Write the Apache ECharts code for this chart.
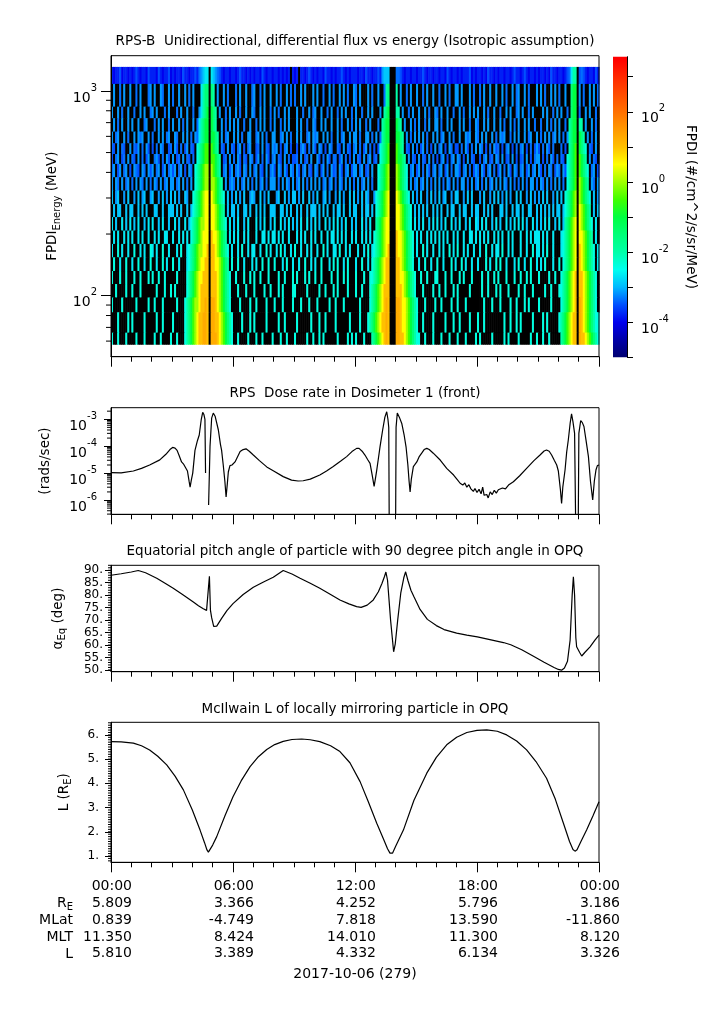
<!DOCTYPE html>
<html>
<head>
<meta charset="UTF-8">
<title>RPS-B flux, dose, pitch angle and L</title>
<script src="https://cdn.jsdelivr.net/npm/echarts@6.0.0/dist/echarts.min.js"></script>
<style>
	html,body{margin:0; padding:0; background:#fff;}
	#chart{width:725px; height:1019px;}
</style>
</head>
<body>
<div id="chart"></div>
<script>
// ---------------- data ----------------
// bottom table (one column per major time tick)
var TICK_TIMES = ['00:00', '06:00', '12:00', '18:00', '00:00'];
var EPH_RE   = ['5.809', '3.366', '4.252', '5.796', '3.186'];
var EPH_MLAT = ['0.839', '-4.749', '7.818', '13.590', '-11.860'];
var EPH_MLT  = ['11.350', '8.424', '14.010', '11.300', '8.120'];
var EPH_L    = ['5.810', '3.389', '4.332', '6.134', '3.326'];
var DATE_LABEL = '2017-10-06 (279)';

// spectrogram: energy bin edges (MeV), top row first
var ENERGY_EDGES = [1310, 1082, 838, 736, 633, 555, 492, 440, 379, 326, 280, 242, 208, 179, 154, 132, 114, 98, 83, 66, 58];
var COL_HOURS = 0.1; // one character = 6 minutes
// flux level codes (log10 #/cm^2/s/sr/MeV); '.' = no data (black)
var LEVEL = {A:-4.0, B:-3.8, C:-3.5, D:-3.35, E:-3.15, F:-2.9, G:-2.65, H:-2.4, I:-2.0, J:-1.5, K:-1.0, L:-0.5, M:0.0, N:0.5, O:1.0, P:1.25};
// one row per energy bin, 24 groups of 10 columns (one group per hour)
var SPEC_ROWS = [
	"BABBCABBAB ABCBABBACB BBACBABBCA BABBACBBAB BCBDEFGG.G FEDCBABBAB BABCBBABAB ABBACBABBA BBABABAB.B AB.BBABCBA BABBACBBAB ABBCBABABB BABBACBBAB BCBEFFF... DDCBABBABB ABBCBABBAB BABBACBABB ABABBBCABA BBABACBBAB ABBABBABCB BABCBABBAB ABBABACBBA BBABCDGII. CDCBABBACB",
	".E..D.E..E ..D.E...DE .E..ED..E. D..E..E.D. E...GIJJ.J I.E..E.D.. .D.E..E..D E..D.E..E. .E.D..E.D. D..E.E...E .E..D..E.D ..E.E.D..E D.E...E.D. .E..DIJ... I.E..D.E.. E..D.E..E. .D..E.D..E E.E...E.D. .D.E..E..E ..E.D..E.D E..E.D...E .E.D..E.E. D..E..JKK. E.D..E.E.D",
	"E..E.D..E. .D..E.E..D E.E...D.E. ..D.E..E.. D..EGIJK.K JI.E..D.E. .E.D..E..E D..E.E..D. E.D..E.E.. .E..D..E.D E..E..D.E. .D.E.E..D. E..D..E.E. ..E.IJK... II.E..D.E. .E..E.D..E D.E..E..D. .E.D..E.E. E..E.D..E. .D..E.E..D E.E..D.E.. ..E.E..D.E .E..D.JKK. D..E.E..D.",
	".E.D.E..E. E..E..DE.. .D.E.E..D. E..E.D.E.. E.DGIJKK.K JI..E.D.E. E.E..D..E. .D.E.E..D. E..D.E.E.. .E.E..D..E D..E.E..E. .E.D..E.D. E.E..D.E.. .D.IJKK... KJI.E..E.D .E..D.E..E E.D..E.E.. .E.E..D..E D..E.E..E. .E.D..E.D. E..E.E..D. .D..E.D.E. E..D.IJKK. II.E..E.D.",
	"E.DE..E.D. .E.EDE..E. D..E.E.DE. .ED..E.E.D .EDGIJKK.K KJI.E.DE.. E.E.D..EE. .DE.E.D..E E..DE.E.D. .E.E..DE.E DE..E.E.D. .E.DE..E.E E.D..EE.D. E.DIJKK... KKJI.E.D.E .E.E.D..E. E.DE..E.D. .E..EDE..E D.E.E..E.D .EDE..D.E. E..E.DE..E .D.E.E.DE. E.D.EIJKK. KJI.E.D.E.",
	"DC.E.DC..E .DCE.D.EC. C.D.ED..CD .EC.D.CE.D C.HIJKLL.L KJI.DC.E.D C.DE.C.DE. .CD.E.DC.E DE.C.DE.C. .C.DEC.D.E C.ED.C.ED. .DC.E.DC.D E.D.CE.D.C .CHIJKL... LKJI.DC.E. D.CE.D.C.E .DE.C.ED.C C.D.EC.D.E .ED.C.D.EC D.C.DE.C.D .DE.C.D.CE C.D.EC.D.. .D.C.IJKL. KJIH.DC.E.",
	"C.DE.CD.E. DC.E.D.CE. .DEC.D.EC. E.CD.E.DC. D.HIJKLL.L LKJI.CD.E. D.EC.DC.ED .CE.D.EC.D E.DC.E.D.C CD.E.CD.E. .EC.D.EC.D D.CE.D.C.E .DC.E.DE.C D.HIJKL... LKKJI.E.DC .E.DC.E.D. C.DE.C.DE. ED.C.E.DC. .C.DE.CD.E D.E.CD.E.C .CD.E.C.DE E.C.D.EC.D .DC.HIJKL. LKJI.E.DC.",
	"DE.CE.DE.C .EDC.ED.EC E.DE.CE.DE CE.DE.C.ED .HIJKLMM.M LKJI.DE.CE .DEC.ED.E. DE.DC.E.DE C.ED.EC.ED .EC.DE.DC. ED.CE.D.EC D.EC.DE.CE E.DE.CD.E. .HIJKLM... MLKJIH.DE. CE.D.EC.DE .DE.CE.D.E EC.DE.D.CE D.EC.DE.D. CE.D.EC.ED .DE.CE.DE. EC.D.ED.CE D.ECHIJKL. LKJIH.DE.C",
	"E.ED.E.DE. D.E.ED.E.D .ED.E.DE.E E.DE.E.D.E .HIJKLMM.M MLKJI.E.DE D.E.DE.E.D .E.DE.D.EE E.D.E.ED.E .DE.E.D.E. E.E.DE.DE. D.ED.E.E.D .E.DE.E.D. .HIJKLM... MLKJIH.E.D E.DE.E.D.E .E.D.ED.E. D.EE.D.E.D E.D.E.DE.E .E.ED.E.D. D.E.D.EE.D .ED.E.D.E. E.D.HIJKL. MLKJI.ED.E",
	"F.EF..E.F. .E.F.EF..E F..E.F.E.F .F.E..FE.. HIJKLMNN.N MLKJIH.F.E .F.E.F..EF E..F.E.F.. .EF..F.E.F F.E.F..F.E .F..EF.E.. E.F.E..F.F .E.F.FE..E HIJKLMN... NMLKJIH.F. E.F..E.F.E .F.EF..E.F F..E.F.F.. .E.F..E.F. F.E.F.E..F .F..E.F.E. E.F.F..E.F .F.HIJKLM. MLKJIH.F.E",
	".F.FF..F.F F..F.F.F.. .FF..F..FF F.F.F..F.F HIJKLMNN.N NMLKJI.F.F F.F..FF.F. .F.F.F..FF F..FF.F.F. .F.F..F.FF F.F.F.F..F .FF.F..F.F F..F.FF.F. HIJKLMN... NNMLKJIH.F .F.F.F..F. F.F..F.FF. .F.FF..F.F F..F.F.F.. .FF.F..F.F F.F..FF..F .F.F.F.F.F F.FHIJKLM. NMLKJI.F.F",
	"G.F..G.F.G .F.G..F.G. G..F.G..F. .G.F..G.FH IJKLMMNN.N NMLKJIH.G. F.G..F.G.. .G.F.G..F. G..G.F.G.F .F.G..G.F. G.F..G.F.G .G.F.G..F. F..G.F.G.. IJKLMNN... NNMLKJIH.G .F.G..F.G. G.F.G..G.F .G..F.G..G F.G.G..F.G .F..G.F.G. G.G.F..G.F .F.G.G..F. G.FIJKLMN. NMLKJIH.G.",
	".G.G..G.G. G..G.G..G. .G.G..GG.. G..G.G.G.H IJKLMNNN.O NNMLKJI.G. G.G..G.G.. .G..GG.G.G G.G.G..G.. .G.G.G..G. G..G..G.GG .G.G.G..G. G..G.G.G.H IJKLMNN... ONNMLKJIH. G.G..G.G.G .G.G.G..G. G..G..GG.G .G.G.G..G. G.G..G.G.. .G..G.G.GG G.G.G..G.. .GHIJKLMN. NNMLKJI.G.",
	"G..H.G..G. .H..G.G..H G.G..H..G. ..G.H..GHI JKLMMNNO.O ONMLKJIH.G ..G.H..G.G G..G..H.G. .G.H.G..G. H..G..G.G. .G..H.G..G G.H..G.G.. .G..G.H.GH IJKLMNO... ONNMLKJIH. G..H.G..G. .G.G..H.G. H..G.G..G. .G..H..G.G G.H..G.G.. .G..G..H.G G.G.H..G.. .GHIJKLMN. ONMLKJIH.G",
	".H..G..H.. G..H..G..H ..G..H.G.. H..G...GHI JKLMNNOO.O ONNMLKJI.H ..H..G...G .G..H..H.. H...G.H..G ..G..H..G. G..H...G.H .H..G.H... G..H..G.HI JKLMNOO... OONMLKJIH. .G..H..G.. H..G...H.G ..H.G..G.. G...H.G..H .H..G...G. H..G..H..G .G.H...G.. H.HIJKLMN. ONMLKJIH.G",
	"H...H..H.. .H..H...H. H..H..H... ..H....HIJ KLMNNOOO.O OONMLKJIH. .H...H..H. H..H...H.. ..H..H...H .H...H.H.. H..H....H. .H..H.H... H...H..HHI JKLMNOO... OONNMLKJIH ..H..H...H H...H..H.. .H.H...H.. ..H..H..H. H...H...H. .H..H.H... H....H..H. .HIJKLMNO. OONMLKJIH.",
	"..H....H.. H...H..... ..H...H..H .H.....HIJ KLMNOOOO.O OONMLKJIH. ..H...H... H....H..H. ..H.H....H H.....H... ..H..H...H .H....H... H..H...HIJ KLMNOOO... OOONMLKJIH ...H....H. .H..H...H. H.....H... ..H..H...H .H...H.... H..H...H.. ...H..H... HHIJKLMNO. OONMLKJIH.",
	"H....H.... ..H.....H. .H...H.... ..H...HIJK LMMNOOPO.P PONMLKJIH. ...H....H. .H....H... H...H....H ...H...H.. .H.....H.. H...H..... ..H....HIJ KLMNOPO... PPONNMLKJI H...H....H ..H....H.. H...H..... ...H...H.. .H....H..H ...H.H.... H.....H... .HIJKLMNO. PONMLKJIH.",
	"...H....H. H.....H... ..H..H.... H.....HIJK LMNOOPPO.P POONMLKJIH ....H...H. H.....H... ..H..H.... .H......H. ..H..H.... H......H.. ..H...HIJK LMNOOPO... PPONNMLKJI H..H....H. ....H...H. .H....H... H..H...... ...H..H..H .H.....H.. ..H.H..... HIJKLMNOO. PONMLKJIHH",
	"H..H...H.. ..H...H... .H..H....H ..H...HIJK LMNOOPPO.P PPONMLKJIH ..H....H.. .H..H....H ...H..H... H.....H..H ..H.H..... .H....H.H. H...H...IJ KLMNOPO... PPOONMLKJI HH..H...H. ..H...H... H...H....H .H.....H.. ...H.H.... H.....H..H ..H..H.... .IJKLMNOO. POONMLKJIH"
];

// dose rate, dosimeter 1 (front): [hour, rads/sec]; null = gap
var DOSE_PTS = [[0.00,1.05e-5],[0.50,1.02e-5],[1.10,1.2e-5],[1.50,1.5e-5],[1.90,2.0e-5],[2.40,3.1e-5],[2.70,5.0e-5],[2.90,7.5e-5],[3.03,9.0e-5],[3.15,8.5e-5],[3.25,7.0e-5],[3.35,4.5e-5],[3.47,2.6e-5],[3.58,2.1e-5],[3.67,1.9e-5],[3.76,1.2e-5],[3.84,5.0e-6],[3.89,3.0e-6],[3.95,5.5e-6],[4.02,1.0e-5],[4.13,7.0e-5],[4.25,1.6e-4],[4.34,2.6e-4],[4.44,1.0e-3],[4.51,1.8e-3],[4.57,1.5e-3],[4.62,1.0e-3],[4.65,1.0e-5],[4.72,null],[4.80,6.5e-7],[4.87,1.0e-4],[4.95,1.1e-3],[5.03,1.7e-3],[5.12,1.3e-3],[5.28,4.0e-4],[5.38,1.2e-4],[5.44,7.0e-5],[5.52,2.0e-5],[5.60,5.0e-6],[5.66,1.3e-6],[5.72,4.0e-6],[5.77,1.1e-5],[5.85,1.9e-5],[5.95,2.0e-5],[6.10,2.6e-5],[6.35,6.3e-5],[6.50,7.5e-5],[6.64,8.0e-5],[6.80,6.5e-5],[7.00,4.7e-5],[7.30,2.9e-5],[7.66,1.7e-5],[8.00,1.2e-5],[8.47,7.4e-6],[8.88,5.5e-6],[9.20,5.1e-6],[9.45,5.2e-6],[9.80,6.0e-6],[10.27,8.5e-6],[10.60,1.2e-5],[10.93,1.75e-5],[11.30,2.8e-5],[11.59,4.1e-5],[11.85,6.3e-5],[12.08,8.3e-5],[12.20,8.3e-5],[12.35,6.5e-5],[12.49,4.7e-5],[12.62,3.2e-5],[12.74,2.3e-5],[12.85,8.0e-6],[12.94,3.2e-6],[13.00,6.0e-6],[13.07,1.3e-5],[13.15,3.5e-5],[13.23,9.5e-5],[13.36,4.0e-4],[13.47,1.2e-3],[13.56,1.9e-3],[13.62,1.0e-3],[13.66,5.0e-4],[13.69,1e-8],[13.99,1e-8],[14.02,5.0e-4],[14.08,1.7e-3],[14.18,1.2e-3],[14.30,7.0e-4],[14.42,2.5e-4],[14.51,9.5e-5],[14.60,2.0e-5],[14.66,5.0e-6],[14.71,2.0e-6],[14.77,6.0e-6],[14.87,1.75e-5],[14.95,2.1e-5],[15.04,2.6e-5],[15.15,4.0e-5],[15.28,5.5e-5],[15.40,7.5e-5],[15.53,8.3e-5],[15.65,7.5e-5],[15.85,5.5e-5],[16.20,3.0e-5],[16.51,1.5e-5],[16.85,8.5e-6],[17.05,5.5e-6],[17.17,4.2e-6],[17.30,3.6e-6],[17.40,4.3e-6],[17.50,3.0e-6],[17.60,3.7e-6],[17.70,2.6e-6],[17.82,2.1e-6],[17.90,2.7e-6],[18.00,1.9e-6],[18.10,2.5e-6],[18.20,1.7e-6],[18.28,3.0e-6],[18.35,1.5e-6],[18.48,1.6e-6],[18.55,1.2e-6],[18.65,2.0e-6],[18.75,1.6e-6],[18.85,2.3e-6],[18.95,1.8e-6],[19.05,2.4e-6],[19.13,2.2e-6],[19.25,2.8e-6],[19.40,2.6e-6],[19.55,3.6e-6],[19.79,4.8e-6],[20.10,8.0e-6],[20.44,1.5e-5],[20.80,2.9e-5],[21.10,4.7e-5],[21.30,6.6e-5],[21.42,7.2e-5],[21.55,6.5e-5],[21.67,4.7e-5],[21.80,3.0e-5],[21.92,2.0e-5],[22.00,1.2e-5],[22.10,2.5e-6],[22.16,7.5e-7],[22.22,3.0e-6],[22.33,1.3e-5],[22.41,6.0e-5],[22.49,1.7e-4],[22.58,7.0e-4],[22.65,1.6e-3],[22.72,8.0e-4],[22.80,3.0e-4],[22.87,1e-8],[22.97,1e-8],[23.01,3.0e-4],[23.10,9.0e-4],[23.18,7.5e-4],[23.26,5.4e-4],[23.37,1.5e-4],[23.48,4.1e-5],[23.58,5.0e-6],[23.69,1.0e-6],[23.77,5.0e-6],[23.85,1.3e-5],[23.92,1.9e-5],[24.00,2.0e-5]];

// equatorial pitch angle: [hour, deg]
var PITCH_PTS = [[0.00,88.0],[0.50,88.6],[1.00,89.3],[1.34,89.9],[1.70,89.0],[2.25,86.8],[2.70,84.6],[3.06,82.8],[3.50,80.4],[4.05,77.3],[4.30,75.8],[4.54,74.6],[4.70,73.9],[4.79,73.4],[4.84,87.6],[4.89,74.0],[4.95,71.0],[5.05,67.5],[5.11,66.7],[5.20,67.6],[5.44,70.7],[5.70,73.8],[6.00,76.6],[6.50,80.3],[7.00,83.2],[7.50,85.3],[7.98,87.2],[8.47,89.9],[8.90,88.5],[9.30,86.8],[9.80,84.8],[10.27,82.8],[10.80,80.3],[11.26,78.1],[11.70,76.5],[12.08,75.4],[12.30,75.1],[12.60,76.0],[12.90,78.1],[13.15,81.4],[13.33,84.8],[13.45,87.5],[13.52,89.3],[13.60,86.0],[13.75,70.0],[13.90,57.3],[13.98,60.5],[14.10,70.0],[14.25,80.8],[14.40,87.0],[14.49,89.4],[14.60,86.0],[14.75,82.0],[14.90,79.4],[15.20,74.3],[15.56,70.3],[16.00,67.8],[16.38,66.2],[17.00,64.8],[17.50,64.0],[18.02,63.3],[18.80,61.9],[19.30,61.0],[19.66,60.1],[20.20,58.1],[20.80,55.4],[21.30,53.1],[21.79,51.0],[22.00,50.2],[22.16,49.9],[22.30,50.8],[22.45,53.5],[22.58,62.0],[22.68,80.0],[22.74,87.4],[22.80,80.0],[22.86,63.0],[22.90,59.3],[22.96,60.0],[23.05,57.0],[23.15,55.6],[23.30,57.0],[23.56,59.3],[23.80,62.0],[24.00,64.0]];

// McIlwain L: [hour, L]
var LSHELL_PTS = [[0.00,5.72],[0.50,5.71],[1.10,5.66],[1.50,5.55],[1.90,5.38],[2.30,5.12],[2.74,4.76],[3.15,4.30],[3.56,3.73],[4.00,2.90],[4.38,2.07],[4.60,1.55],[4.72,1.25],[4.79,1.16],[4.86,1.22],[5.00,1.45],[5.20,1.80],[5.60,2.65],[6.00,3.45],[6.40,4.10],[6.84,4.69],[7.25,5.10],[7.66,5.40],[8.05,5.60],[8.47,5.73],[8.90,5.81],[9.38,5.83],[9.80,5.80],[10.27,5.72],[10.80,5.55],[11.26,5.31],[11.75,4.85],[12.25,4.07],[12.65,3.25],[13.07,2.35],[13.40,1.70],[13.60,1.30],[13.72,1.12],[13.77,1.08],[13.85,1.12],[14.00,1.40],[14.38,2.07],[14.90,3.30],[15.53,4.42],[16.00,5.07],[16.51,5.59],[17.00,5.90],[17.50,6.10],[18.00,6.19],[18.48,6.21],[19.00,6.15],[19.46,6.00],[19.95,5.75],[20.44,5.38],[20.90,4.90],[21.42,4.21],[21.85,3.35],[22.25,2.35],[22.55,1.60],[22.72,1.27],[22.82,1.20],[22.92,1.26],[23.10,1.58],[23.39,2.07],[23.70,2.65],[24.00,3.24]];

// colour table, -5 .. 3.5 in log10 steps of 0.5
var PALETTE = ['#000070','#0000a8','#0000ee','#0050ff','#00b8ff','#00ffef','#00ffa8','#00ff78','#00ff40','#40ff00','#a0ff00','#ffff00','#ffc000','#ff9800','#ff7000','#ff4c00','#ff2800','#ff0000'];

// axis ranges (log10 where the axis is logarithmic)
var SPEC_RANGE = [1.702, 3.172];
var DOSE_RANGE = [-6.53, -2.57];
var PITCH_RANGE = [49.3, 92];
var LSHELL_RANGE = [0.74, 6.52];
var CB_RANGE = [-5, 3.57];

// ---------------- helpers ----------------
var FONT = 'DejaVu Sans';
var INK = '#000';
var FILL = -99;

function pow10Label(v) { return '{b|10}{s|' + Math.round(v) + '}'; }
var SUP_RICH = {
	b: {fontSize: 14, fontFamily: FONT, color: INK, lineHeight: 22, verticalAlign: 'bottom'},
	s: {fontSize: 10, fontFamily: FONT, color: INK, lineHeight: 8, verticalAlign: 'top'}
};
var NAME_RICH = {
	n: {fontSize: 13.5, fontFamily: FONT, color: INK, lineHeight: 18},
	sub: {fontSize: 10, fontFamily: FONT, color: INK, lineHeight: 10, verticalAlign: 'bottom'}
};
function logMinor(multipliers, decades, range) {
	var out = [];
	decades.forEach(function (d) {
		multipliers.forEach(function (m) {
			var v = Math.log10(m) + d;
			if (v >= range[0] && v <= range[1]) out.push([0, v]);
		});
	});
	return out;
}
function steps(a, b, step, range) {
	var out = [];
	for (var k = Math.round(a / step); k <= Math.round(b / step); k++) {
		var v = Math.round(k * step * 1000) / 1000;
		if (v >= range[0] && v <= range[1]) out.push([0, v]);
	}
	return out;
}
function toXY(pts, fn) {
	return pts.map(function (p) { return [p[0], p[1] == null ? '-' : fn(p[1])]; });
}

// spectrogram cells [t0, t1, logE low, logE high, level]
var cells = [];
SPEC_ROWS.forEach(function (row, r) {
	var codes = row.replace(/ /g, '');
	var eTop = Math.log10(ENERGY_EDGES[r]);
	var eBot = Math.log10(ENERGY_EDGES[r + 1]);
	for (var c = 0; c < codes.length; c++) {
		var ch = codes.charAt(c);
		var v = ch === '.' ? FILL : LEVEL[ch];
		cells.push([c * COL_HOURS, (c + 1) * COL_HOURS, eBot, eTop, v]);
	}
});

function renderCell(params, api) {
	var a = api.coord([api.value(0), api.value(3)]);
	var b = api.coord([api.value(1), api.value(2)]);
	var fill = api.value(4) === FILL ? '#000' : api.visual('color');
	return {
		type: 'rect',
		shape: {x: a[0], y: a[1], width: b[0] - a[0] + 0.6, height: b[1] - a[1] + 0.6},
		style: {fill: fill}
	};
}

function renderColorbar(params, api) {
	var a = api.coord([0, api.value(1)]);
	var b = api.coord([1, api.value(0)]);
	var span = CB_RANGE[1] - CB_RANGE[0];
	var stops = [{offset: 0, color: PALETTE[PALETTE.length - 1]}];
	for (var i = PALETTE.length - 1; i >= 0; i--) {
		var v = -5 + i * 0.5;
		stops.push({offset: (CB_RANGE[1] - v) / span, color: PALETTE[i]});
	}
	return {
		type: 'rect',
		shape: {x: a[0], y: a[1], width: b[0] - a[0], height: b[1] - a[1]},
		style: {fill: {type: 'linear', x: 0, y: 0, x2: 0, y2: 1, colorStops: stops}}
	};
}

// short outward tick on the left edge of a panel, placed through the panel's y scale
function minorTickRenderer(len) {
	return function (params, api) {
		var p = api.coord([api.value(0), api.value(1)]);
		return {
			type: 'line',
			shape: {x1: p[0] - len, y1: p[1], x2: p[0], y2: p[1]},
			style: {stroke: INK, lineWidth: 1}
		};
	};
}
function minorTickSeries(xi, yi, data, len) {
	return {
		type: 'custom', xAxisIndex: xi, yAxisIndex: yi, silent: true, clip: false, z: 10,
		renderItem: minorTickRenderer(len), encode: {x: 0, y: 1}, data: data
	};
}

function timeAxis(gridIndex, withTable) {
	var ax = {
		type: 'value', gridIndex: gridIndex, min: 0, max: 24, interval: 6, z: 10,
		axisLine: {show: true, onZero: false, lineStyle: {color: INK, width: 1}},
		axisTick: {show: true, length: 10, lineStyle: {color: INK, width: 1}},
		minorTick: {show: true, splitNumber: 6, length: 5, lineStyle: {color: INK, width: 1}},
		splitLine: {show: false},
		axisLabel: {show: false}
	};
	if (withTable) {
		ax.axisLabel = {
			show: true, margin: 16, showMinLabel: true, showMaxLabel: true,
			formatter: function (v) {
				var i = Math.round(v / 6);
				return [TICK_TIMES[i], EPH_RE[i], EPH_MLAT[i], EPH_MLT[i], EPH_L[i]].map(function (s) {
					return '{t|' + s + '}';
				}).join('\n');
			},
			rich: {t: {width: 42, align: 'right', fontSize: 14, lineHeight: 16.75, fontFamily: FONT, color: INK}}
		};
		ax.name = DATE_LABEL;
		ax.nameLocation = 'middle';
		ax.nameGap = 105;
		ax.nameTextStyle = {fontSize: 14, fontFamily: FONT, color: INK};
	}
	return ax;
}

function majorAxis(gridIndex, range, ticks, tickLen, label, name, nameGap) {
	return {
		type: 'value', gridIndex: gridIndex, position: 'left', min: range[0], max: range[1], z: 10,
		axisLine: {show: true, onZero: false, lineStyle: {color: INK, width: 1}},
		axisTick: {show: true, length: tickLen, customValues: ticks, lineStyle: {color: INK, width: 1}},
		axisLabel: Object.assign({show: true, customValues: ticks, showMinLabel: true, showMaxLabel: true}, label),
		splitLine: {show: false},
		name: name, nameLocation: 'middle', nameRotate: 90, nameGap: nameGap,
		nameTextStyle: {fontSize: 13.5, fontFamily: FONT, color: INK, rich: NAME_RICH}
	};
}

var titleStyle = {fontSize: 13.5, fontWeight: 'normal', fontFamily: FONT, color: INK};
function panelTitle(text, top) {
	return {text: text, left: 355, top: top, textAlign: 'center', padding: 0, textStyle: titleStyle};
}

var option = {
	backgroundColor: '#fff',
	animation: false,
	textStyle: {fontFamily: FONT, color: INK},
	title: [
		panelTitle('RPS-B  Unidirectional, differential flux vs energy (Isotropic assumption)', 34),
		panelTitle('RPS  Dose rate in Dosimeter 1 (front)', 386),
		panelTitle('Equatorial pitch angle of particle with 90 degree pitch angle in OPQ', 544),
		panelTitle('McIlwain L of locally mirroring particle in OPQ', 702)
	],
	grid: [
		{left: 111, top: 55.7, width: 488, height: 301, show: true, z: 10, borderColor: INK, borderWidth: 1, backgroundColor: 'transparent'},
		{left: 111, top: 407.7, width: 488, height: 106.6, show: true, borderColor: INK, borderWidth: 1},
		{left: 111, top: 565.3, width: 488, height: 106.4, show: true, borderColor: INK, borderWidth: 1},
		{left: 111, top: 722.3, width: 488, height: 140, show: true, borderColor: INK, borderWidth: 1},
		{left: 613, top: 56.7, width: 14, height: 300.6, show: false}
	],
	xAxis: [
		timeAxis(0, false),
		timeAxis(1, false),
		timeAxis(2, false),
		timeAxis(3, true),
		{type: 'value', gridIndex: 4, min: 0, max: 1, show: false}
	],
	yAxis: [
		majorAxis(0, SPEC_RANGE, [2, 3], 10,
			{margin: 14, padding: [6, 0, 0, 0], formatter: pow10Label, rich: SUP_RICH},
			'{n|FPDI}{sub|Energy}{n| (MeV)}', 47),
		majorAxis(1, DOSE_RANGE, [-6, -5, -4, -3], 7,
			{margin: 14, padding: [6, 0, 0, 0], formatter: pow10Label, rich: SUP_RICH},
			'{n|(rads/sec)}', 57),
		majorAxis(2, PITCH_RANGE, [50, 55, 60, 65, 70, 75, 80, 85, 90], 6,
			{margin: 8, fontSize: 12, fontFamily: FONT, color: INK, formatter: function (v) { return v + '.'; }},
			'{n|α}{sub|Eq}{n| (deg)}', 44),
		majorAxis(3, LSHELL_RANGE, [1, 2, 3, 4, 5, 6], 6,
			{margin: 12, fontSize: 12, fontFamily: FONT, color: INK, formatter: function (v) { return v + '.'; }},
			'{n|L (R}{sub|E}{n|)}', 38),
		{
			type: 'value', gridIndex: 4, position: 'right', min: CB_RANGE[0], max: CB_RANGE[1], z: 10,
			axisLine: {show: true, onZero: false, lineStyle: {color: INK, width: 1}},
			axisTick: {show: true, length: 6, customValues: [-5, -4, -3, -2, -1, 0, 1, 2, 3], lineStyle: {color: INK, width: 1}},
			axisLabel: {show: true, margin: 14, padding: [6, 0, 0, 0], customValues: [-4, -2, 0, 2], formatter: pow10Label, rich: SUP_RICH},
			splitLine: {show: false},
			name: 'FPDI (#/cm^2/s/sr/MeV)', nameLocation: 'middle', nameRotate: -90, nameGap: 56,
			nameTextStyle: {fontSize: 13.5, fontFamily: FONT, color: INK}
		}
	],
	visualMap: [{
		type: 'continuous', show: false, seriesIndex: 0, dimension: 4,
		min: -5, max: 3.5,
		inRange: {color: PALETTE},
		outOfRange: {color: '#000'}
	}],
	graphic: [
		{type: 'text', x: 73, y: 903, style: {text: '{n|R}{sub|E}', align: 'right', verticalAlign: 'middle',
			rich: {n: {fontSize: 14, fontFamily: FONT, color: INK, lineHeight: 18}, sub: {fontSize: 10, fontFamily: FONT, color: INK, lineHeight: 10, verticalAlign: 'bottom'}}}},
		{type: 'text', x: 73, y: 920, style: {text: 'MLat', align: 'right', verticalAlign: 'middle', font: '14px "DejaVu Sans"', fill: INK}},
		{type: 'text', x: 73, y: 937, style: {text: 'MLT', align: 'right', verticalAlign: 'middle', font: '14px "DejaVu Sans"', fill: INK}},
		{type: 'text', x: 73, y: 954, style: {text: 'L', align: 'right', verticalAlign: 'middle', font: '14px "DejaVu Sans"', fill: INK}}
	],
	series: [
		{
			type: 'custom', name: 'FPDI', xAxisIndex: 0, yAxisIndex: 0, silent: true, progressive: 0,
			renderItem: renderCell, encode: {x: [0, 1], y: [2, 3]}, data: cells
		},
		{
			type: 'custom', name: 'colorbar', xAxisIndex: 4, yAxisIndex: 4, silent: true,
			renderItem: renderColorbar, encode: {y: [0, 1]}, data: [[CB_RANGE[0], CB_RANGE[1]]]
		},
		{
			type: 'line', name: 'dose', xAxisIndex: 1, yAxisIndex: 1, showSymbol: false, silent: true,
			lineStyle: {color: INK, width: 1.2}, data: toXY(DOSE_PTS, Math.log10)
		},
		{
			type: 'line', name: 'pitch', xAxisIndex: 2, yAxisIndex: 2, showSymbol: false, silent: true,
			lineStyle: {color: INK, width: 1.2}, data: toXY(PITCH_PTS, Number)
		},
		{
			type: 'line', name: 'L', xAxisIndex: 3, yAxisIndex: 3, showSymbol: false, silent: true,
			lineStyle: {color: INK, width: 1.2}, data: toXY(LSHELL_PTS, Number)
		},
		// minor ticks of the left axes
		minorTickSeries(0, 0, logMinor([6, 7, 8, 9], [1], SPEC_RANGE).concat(logMinor([2, 3, 4, 5, 6, 7, 8, 9], [2], SPEC_RANGE)), 5),
		minorTickSeries(1, 1, logMinor([2, 3, 4, 5, 6, 7, 8, 9], [-7, -6, -5, -4, -3], DOSE_RANGE), 4),
		minorTickSeries(2, 2, steps(50, 92, 1, PITCH_RANGE), 3),
		minorTickSeries(3, 3, steps(0.8, 6.5, 0.1, LSHELL_RANGE), 3)
	]
};

var chart = echarts.init(document.getElementById('chart'));
chart.setOption(option);
</script>
</body>
</html>
